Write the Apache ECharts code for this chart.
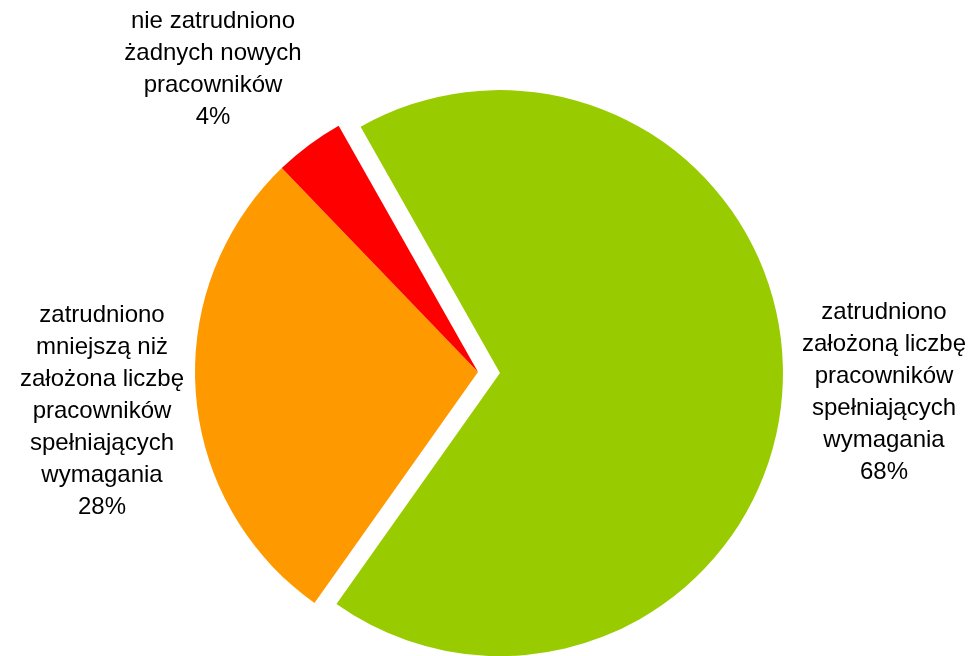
<!DOCTYPE html>
<html>
<head>
<meta charset="utf-8">
<script src="https://cdn.jsdelivr.net/npm/echarts@6/dist/echarts.min.js"></script>
<style>
  html, body { margin: 0; padding: 0; background: #fff; }
  #chart { width: 975px; height: 656px; }
</style>
</head>
<body>
<div id="chart"></div>
<script>
// kategorie (z podziałem na linie jak na wykresie) i udziały w %
const categories = [
    'zatrudniono\nzałożoną liczbę\npracowników\nspełniających\nwymagania',
    'zatrudniono\nmniejszą niż\nzałożona liczbę\npracowników\nspełniających\nwymagania',
    'nie zatrudniono\nżadnych nowych\npracowników'
]
const values = [68, 28, 4]
const colors = ['#99CC00', '#FF9900', '#FF0000']
const exploded = [true, false, false]

// środki etykiet (x, y) dla kolejnych wycinków
const labelCenters = [[884, 392], [102, 411], [213, 69]]

const pieCenter = [478, 372]
const startAngle = 119.5
const explodeOffset = 22

/** przesunięcie środka dla wysuniętego wycinka (wzdłuż dwusiecznej) */
const total = values.reduce((a, b) => a + b, 0)
const explodeShift = (idx) => {
    let before = 0
    for (let i = 0; i < idx; i++) before += values[i]
    const mid = (startAngle - (before + values[idx] / 2) / total * 360) * Math.PI / 180
    return [Math.cos(mid) * explodeOffset, -Math.sin(mid) * explodeOffset]
}

const labelStyle = {
    show: true,
    position: 'outside',
    formatter: '{b}\n{d}%',
    color: '#000',
    fontSize: 24,
    lineHeight: 32,
    align: 'center',
    fontFamily: '"Liberation Sans", Arial, sans-serif'
}

// jedna seria na "warstwę": wycinki zwykłe oraz każdy wysunięty osobno
const makeSeries = (visible, center) => ({
    type: 'pie',
    center: center,
    radius: 283,
    startAngle: startAngle,
    clockwise: true,
    silent: true,
    avoidLabelOverlap: false,
    percentPrecision: 0,
    emphasis: { disabled: true },
    labelLine: { show: false },
    data: categories.map((name, i) => ({
        name: name,
        value: values[i],
        itemStyle: { color: visible(i) ? colors[i] : 'rgba(0,0,0,0)', borderWidth: 0 },
        label: visible(i) ? labelStyle : { show: false }
    })),
    labelLayout: (params) => {
        const c = labelCenters[params.dataIndex]
        return { x: c[0], y: c[1], align: 'center', verticalAlign: 'middle' }
    }
})

const series = [makeSeries(i => !exploded[i], pieCenter)]
exploded.forEach((isOut, idx) => {
    if (!isOut) return
    const s = explodeShift(idx)
    series.push(makeSeries(i => i === idx, [pieCenter[0] + s[0], pieCenter[1] + s[1]]))
})

const chart = echarts.init(document.getElementById('chart'))
chart.setOption({
    animation: false,
    textStyle: { fontFamily: '"Liberation Sans", Arial, sans-serif' },
    series: series
})
</script>
</body>
</html>
